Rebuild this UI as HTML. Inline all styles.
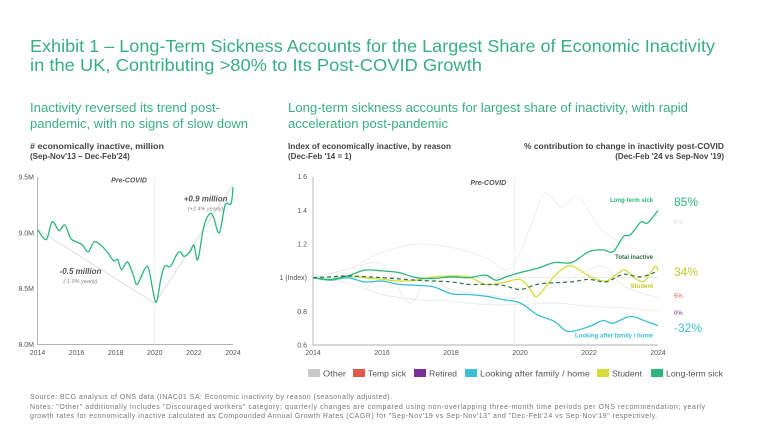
<!DOCTYPE html>
<html><head><meta charset="utf-8"><style>
html,body{margin:0;padding:0;background:#fff;}
svg{display:block;font-family:"Liberation Sans",sans-serif;}
</style></head><body>
<svg id="s" width="768" height="432" viewBox="0 0 768 432">
<text x="30" y="52" font-size="17.5" fill="#3aae82" textLength="685" lengthAdjust="spacingAndGlyphs">Exhibit 1 – Long-Term Sickness Accounts for the Largest Share of Economic Inactivity</text>
<text x="30" y="71" font-size="17.5" fill="#3aae82" textLength="452" lengthAdjust="spacingAndGlyphs">in the UK, Contributing &gt;80% to Its Post-COVID Growth</text>
<text x="30" y="112" font-size="12.5" fill="#3aae82" textLength="190" lengthAdjust="spacingAndGlyphs">Inactivity reversed its trend post-</text>
<text x="30" y="128" font-size="12.5" fill="#3aae82" textLength="218" lengthAdjust="spacingAndGlyphs">pandemic, with no signs of slow down</text>
<text x="288" y="112" font-size="12.5" fill="#3aae82" textLength="400" lengthAdjust="spacingAndGlyphs">Long-term sickness accounts for largest share of inactivity, with rapid</text>
<text x="288" y="128" font-size="12.5" fill="#3aae82" textLength="160" lengthAdjust="spacingAndGlyphs">acceleration post-pandemic</text>
<text x="30" y="149" font-size="8" font-weight="bold" fill="#444" textLength="134" lengthAdjust="spacingAndGlyphs"># economically inactive, million</text>
<text x="30" y="159" font-size="8" font-weight="bold" fill="#444">(Sep-Nov'13 – Dec-Feb'24)</text>
<text x="288" y="149" font-size="8" font-weight="bold" fill="#444" textLength="163" lengthAdjust="spacingAndGlyphs">Index of economically inactive, by reason</text>
<text x="288" y="159" font-size="8" font-weight="bold" fill="#444">(Dec-Feb '14 = 1)</text>
<text x="724" y="149" font-size="8" font-weight="bold" fill="#444" text-anchor="end" textLength="200" lengthAdjust="spacingAndGlyphs">% contribution to change in inactivity post-COVID</text>
<text x="724" y="159" font-size="8" font-weight="bold" fill="#444" text-anchor="end">(Dec-Feb '24 vs Sep-Nov '19)</text>
<g id="left"></g>
<g id="right"></g>
<g id="legend"></g>
<text x="30" y="399" font-size="7" fill="#777" textLength="362" lengthAdjust="spacing">Source: BCG analysis of ONS data (INAC01 SA: Economic inactivity by reason (seasonally adjusted).</text>
<text x="30" y="409" font-size="7" fill="#777" textLength="675" lengthAdjust="spacing">Notes: "Other" additionally includes "Discouraged workers" category; quarterly changes are compared using non-overlapping three-month time periods per ONS recommendation; yearly</text>
<text x="30" y="418" font-size="7" fill="#777" textLength="627" lengthAdjust="spacing">growth rates for economically inactive calculated as Compounded Annual Growth Rates (CAGR) for "Sep-Nov'19 vs Sep-Nov'13" and "Dec-Feb'24 vs Sep-Nov'19" respectively.</text>
</svg>
<script>
// ---- left chart data ----
const leftYears=[2014.0,2014.45,2014.75,2015.1,2015.4,2015.7,2016.0,2016.3,2016.6,2016.9,2017.3,2017.6,2017.9,2018.1,2018.3,2018.6,2018.9,2019.1,2019.5,2019.7,2020.05,2020.3,2020.5,2020.8,2021.1,2021.3,2021.5,2021.8,2022.0,2022.2,2022.5,2022.8,2023.0,2023.3,2023.6,2023.9,2024.0];
const leftValues=[9.03,8.94,9.10,9.02,9.07,8.95,8.92,8.89,8.83,8.92,8.88,8.82,8.75,8.76,8.67,8.74,8.62,8.54,8.68,8.67,8.38,8.58,8.70,8.70,8.80,8.83,8.79,8.83,8.89,8.76,9.05,9.17,9.14,9.00,9.25,9.26,9.41];
const leftTicks=[8.0,8.5,9.0,9.5];
const leftTickLabels=["8.0M","8.5M","9.0M","9.5M"];
const xTicks=[2014,2016,2018,2020,2022,2024];
const trendPre=[[2014,9.03],[2020,8.37]];
const trendPost=[[2020,8.37],[2024,9.43]];
// ---- right chart data ----
const ltsYears=[2014,2014.5,2015,2015.5,2016,2016.5,2017,2017.5,2018,2018.5,2019,2019.3,2019.6,2020,2020.5,2021,2021.5,2022,2022.4,2022.7,2023,2023.2,2023.5,2023.7,2024];
const ltsValues=[1.0,0.99,1.01,1.045,1.04,1.03,1.0,0.995,1.005,1.0,1.015,0.985,1.005,1.03,1.055,1.09,1.09,1.155,1.165,1.155,1.245,1.255,1.33,1.325,1.40];
const lafYears=[2014,2014.5,2015,2015.5,2016,2016.5,2017,2017.5,2018,2018.5,2019,2019.5,2020,2020.5,2021,2021.4,2022,2022.4,2022.7,2023.2,2023.6,2024];
const lafValues=[1.0,0.985,1.0,0.975,0.98,0.96,0.955,0.945,0.905,0.9,0.89,0.87,0.85,0.78,0.74,0.68,0.71,0.745,0.73,0.77,0.745,0.715];
const stuYears=[2014,2014.5,2015,2015.5,2016,2016.5,2017,2017.5,2018,2018.5,2019,2019.5,2020,2020.3,2020.5,2021,2021.4,2021.7,2022,2022.5,2023,2023.3,2023.6,2023.9,2024];
const stuValues=[1.0,0.99,1.01,1.0,0.99,0.98,0.985,1.005,1.01,1.005,0.96,0.97,0.99,0.93,0.89,1.01,1.07,1.05,1.01,0.98,1.045,1.0,0.98,1.065,1.045];
const totYears=[2014,2014.5,2015,2016,2017,2018,2018.5,2019,2019.5,2020,2020.5,2021,2021.5,2022,2022.5,2023,2023.5,2024];
const totValues=[1.0,1.005,1.01,1.0,0.985,0.975,0.96,0.96,0.955,0.93,0.96,0.97,0.975,0.99,0.975,1.02,1.005,1.04];
const tmpYears=[2014,2015,2016,2017,2018,2019,2019.7,2020.3,2020.7,2021.2,2021.7,2022.3,2023,2024];
const tmpValues=[1.0,1.05,1.15,1.2,1.18,1.12,1.05,1.3,1.5,1.42,1.48,1.3,1.2,1.12];
const retYears=[2014,2015,2016,2017,2018,2019,2020,2021,2022,2023,2024];
const retValues=[1.0,0.97,0.9,0.87,0.86,0.84,0.84,0.85,0.83,0.82,0.8];
const othYears=[2014,2015,2016,2016.8,2017.3,2018,2019,2020,2021,2022,2022.5,2023,2024];
const othValues=[1.0,1.05,1.08,0.85,1.0,0.93,0.9,0.88,0.95,1.05,1.06,0.95,0.88];
const rightTicks=[0.6,0.8,1.0,1.2,1.4,1.6];
const rightTickLabels=["0.6","0.8","1 (Index)","1.2","1.4","1.6"];
const contribLabels=["85%","8%","34%","5%","0%","-32%"];

const NS="http://www.w3.org/2000/svg";
function mk(parent,tag,attrs,text){const e=document.createElementNS(NS,tag);for(const k in attrs)e.setAttribute(k,attrs[k]);if(text!==undefined)e.textContent=text;parent.appendChild(e);return e;}
function smooth(pts){let d="M"+pts[0][0].toFixed(1)+","+pts[0][1].toFixed(1);for(let i=0;i<pts.length-1;i++){const p0=pts[Math.max(i-1,0)],p1=pts[i],p2=pts[i+1],p3=pts[Math.min(i+2,pts.length-1)];const c1=[p1[0]+(p2[0]-p0[0])/6,p1[1]+(p2[1]-p0[1])/6],c2=[p2[0]-(p3[0]-p1[0])/6,p2[1]-(p3[1]-p1[1])/6];d+="C"+c1[0].toFixed(1)+","+c1[1].toFixed(1)+" "+c2[0].toFixed(1)+","+c2[1].toFixed(1)+" "+p2[0].toFixed(1)+","+p2[1].toFixed(1);}return d;}

// left
const L=document.getElementById('left');
const lx=y=>37.5+(y-2014)/10*195.5, ly=v=>344.5-(v-8.0)/1.5*167.5;
leftTicks.forEach((t,i)=>{const e=mk(L,'text',{x:34,y:ly(t)+2.5,'font-size':7,fill:'#555','text-anchor':'end'},leftTickLabels[i]);

});
xTicks.forEach(t=>{const e=mk(L,'text',{x:lx(t),y:355,'font-size':7,fill:'#555','text-anchor':'middle'},String(t));

});
let ax=mk(L,'path',{d:`M${lx(2014)},${ly(9.5)}V${ly(8)}H${lx(2024)}`,stroke:'#999',fill:'none','stroke-width':0.7});


let cv=mk(L,'line',{x1:lx(2020),x2:lx(2020),y1:ly(9.5),y2:ly(8),stroke:'#e4e4e4','stroke-width':0.6});


[trendPre,trendPost].forEach(tr=>{const e=mk(L,'line',{x1:lx(tr[0][0]),y1:ly(tr[0][1]),x2:lx(tr[1][0]),y2:ly(tr[1][1]),stroke:'#ccc','stroke-width':0.6});

});
let ls=mk(L,'path',{d:smooth(leftYears.map((y,i)=>[lx(y),ly(leftValues[i])])),stroke:'#2db57a',fill:'none','stroke-width':1.3});


[[lx(2019.6),ly(9.45),'Pre-COVID',7,'bold','end','#555'],[lx(2022.6),ly(9.28),'+0.9 million',8,'bold','middle','#555'],[lx(2022.6),ly(9.2),'(+2.4% yearly)',5.5,'normal','middle','#888'],[lx(2016.2),ly(8.63),'-0.5 million',8,'bold','middle','#555'],[lx(2016.2),ly(8.55),'(-1.0% yearly)',5.5,'normal','middle','#888']].forEach(a=>{const e=mk(L,'text',{x:a[0],y:a[1],'font-size':a[3],'font-weight':a[4],'font-style':'italic','text-anchor':a[5],fill:a[6]},a[2]);

});

// right
const R=document.getElementById('right');
const rx=y=>313+(y-2014)/10*345, ry=v=>345-(v-0.6)/1.0*168.3;
rightTicks.forEach((t,i)=>{const e=mk(R,'text',{x:307,y:ry(t)+2.5,'font-size':7,fill:'#555','text-anchor':'end'},rightTickLabels[i]);

});
xTicks.forEach(t=>{const e=mk(R,'text',{x:rx(t),y:355,'font-size':7,fill:'#555','text-anchor':'middle'},String(t));

});
let rax=mk(R,'path',{d:`M${rx(2014)},${ry(1.6)}V${ry(0.6)}H${rx(2024)}`,stroke:'#999',fill:'none','stroke-width':0.7});


let bl=mk(R,'line',{x1:rx(2014),x2:rx(2024),y1:ry(1),y2:ry(1),stroke:'#ddd','stroke-width':0.6});


let rc=mk(R,'line',{x1:rx(2019.85),x2:rx(2019.85),y1:ry(1.6),y2:ry(0.6),stroke:'#e4e4e4','stroke-width':0.6});


const series=[[othYears,othValues,'#e6e6e6',0.7,'',"other-line"],[retYears,retValues,'#e6e6e6',0.7,'',"retired-line"],[tmpYears,tmpValues,'#ececec',0.7,'',"temp-sick-line"],[lafYears,lafValues,'#3bbfd6',1.3,'',"looking-after-family-line"],[stuYears,stuValues,'#d6dc3a',1.3,'',"student-line"],[ltsYears,ltsValues,'#2db57a',1.3,'',"long-term-sick-line"],[totYears,totValues,'#2f6e4a',1.2,'4,3',"total-inactive-line"]];
series.forEach(s=>{const e=mk(R,'path',{d:smooth(s[0].map((y,i)=>[rx(y),ry(s[1][i])])),stroke:s[2],fill:'none','stroke-width':s[3],'stroke-dasharray':s[4]||'none'});

});
[[rx(2019.6),ry(1.55),'Pre-COVID',7,'#555','italic','bold'],[rx(2024)-5,ry(1.45),'Long-term sick',6,'#2db57a','normal','bold'],[rx(2024)-5,ry(1.11),'Total inactive',6,'#2f6e4a','normal','bold'],[rx(2024)-5,ry(0.94),'Student',6,'#c3c82a','normal','bold'],[rx(2024)-5,ry(0.645),'Looking after family / home',6,'#3bbfd6','normal','bold']].forEach(a=>{const e=mk(R,'text',{x:a[0],y:a[1],'font-size':a[3],fill:a[4],'font-style':a[5],'font-weight':a[6],'text-anchor':'end'},a[2]);

});
const contribStyle=[[206,12,'#2db57a'],[224,6,'#ddd'],[276,12,'#c3c82a'],[298,6,'#e05a4a'],[315,6,'#7b2d9a'],[332,12,'#3bbfd6']];
contribLabels.forEach((c,i)=>{const st=contribStyle[i];const e=mk(R,'text',{x:674,y:st[0],'font-size':st[1],fill:st[2]},c);

});

// legend
const G=document.getElementById('legend');
const legItems=[["Other","#c8c8c8",308,23],["Temp sick","#e05a4a",353,38],["Retired","#7b2d9a",414,28],["Looking after family / home","#3bbfd6",465,110],["Student","#d6dc3a",597,30],["Long-term sick","#2db57a",651,57]];
legItems.forEach(it=>{const r=mk(G,'rect',{x:it[2],y:369,width:12,height:8,fill:it[1]});


const t=mk(G,'text',{x:it[2]+15,y:376.5,'font-size':8.5,fill:'#555',textLength:it[3],lengthAdjust:'spacingAndGlyphs'},it[0]);

});
</script>
</body></html>
